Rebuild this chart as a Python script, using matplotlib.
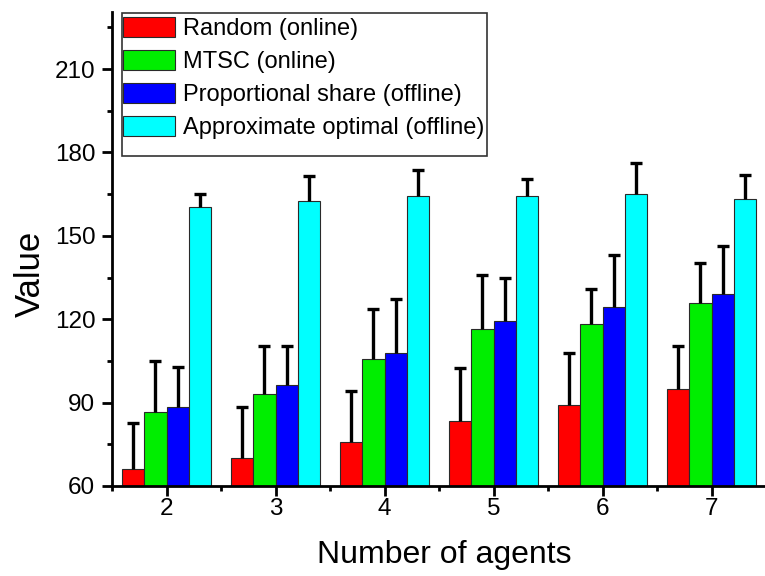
import numpy as np
import matplotlib.pyplot as plt
from matplotlib.patches import Rectangle
from matplotlib.ticker import MultipleLocator

plt.rcParams['font.family'] = ['Liberation Sans', 'DejaVu Sans']

agents = [2, 3, 4, 5, 6, 7]
series_names = ['Random (online)', 'MTSC (online)',
                'Proportional share (offline)', 'Approximate optimal (offline)']
colors = ['#ff0000', '#00ee00', '#0000ff', '#00ffff']

random_vals = [66.0, 70.0, 76.0, 83.2, 89.0, 95.0]
random_err = [16.5, 18.3, 18.2, 19.2, 19.0, 15.2]
mtsc_vals = [86.7, 93.0, 105.7, 116.3, 118.2, 126.0]
mtsc_err = [18.2, 17.2, 18.0, 19.5, 12.8, 14.4]
prop_vals = [88.4, 96.5, 108.0, 119.2, 124.4, 128.9]
prop_err = [14.3, 13.8, 19.2, 15.6, 18.6, 17.4]
approx_vals = [160.4, 162.7, 164.2, 164.5, 165.0, 163.4]
approx_err = [4.5, 8.9, 9.6, 6.0, 11.2, 8.4]

values = [random_vals, mtsc_vals, prop_vals, approx_vals]
errors = [random_err, mtsc_err, prop_err, approx_err]

fig = plt.figure(figsize=(7.65, 5.76), dpi=100)
ax = fig.add_axes([0.1464, 0.1563, 0.855, 0.8227])

width = 0.205
x = np.array(agents, dtype=float)
for i, (vals, errs) in enumerate(zip(values, errors)):
    pos = x + (i - 1.5) * width
    ax.bar(pos, np.array(vals) - 60, width, bottom=60, color=colors[i],
           edgecolor='#2a2a2a', linewidth=0.8, label=series_names[i], zorder=2)
    # upper half only: drop the cap that sits on the bar top
    eb = ax.errorbar(pos, vals, yerr=[np.zeros(len(errs)), errs], fmt='none',
                     ecolor='black', elinewidth=2.4, capsize=4.2, capthick=2.4, zorder=3)
    eb[1][0].remove()

ax.set_xlim(1.5, 7.5)
ax.set_ylim(60, 230.5)
ax.set_xticks(agents)
ax.xaxis.set_minor_locator(MultipleLocator(0.5))
ax.yaxis.set_major_locator(MultipleLocator(30))
ax.yaxis.set_minor_locator(MultipleLocator(15))

for side in ['top', 'right']:
    ax.spines[side].set_visible(False)
for side in ['left', 'bottom']:
    ax.spines[side].set_linewidth(2.0)

ax.tick_params(which='major', direction='out', length=7, width=2.0, labelsize=17.5)
ax.tick_params(axis='x', which='major', pad=2)
ax.tick_params(axis='y', which='major', pad=5)
ax.tick_params(which='minor', direction='out', length=3.5, width=2.0)

ax.set_xlabel('Number of agents', fontsize=23)
ax.set_ylabel('Value', fontsize=25)
ax.xaxis.set_label_coords(0.508, -0.114)
ax.yaxis.set_label_coords(-0.1, 0.447)

leg = ax.legend(loc='upper left', bbox_to_anchor=(0.0165, 0.99), fontsize=17,
                frameon=False, handlelength=2.2, handleheight=0.93,
                handletextpad=0.34, labelspacing=0.42, borderpad=0.0,
                borderaxespad=0.0)
for h in leg.legend_handles:
    h.set_edgecolor('#2a2a2a')
    h.set_linewidth(0.8)

# legend frame leaves extra room below the last entry
ax.add_patch(Rectangle((0.0148, 0.696), 0.5585, 0.3025, transform=ax.transAxes,
                       fill=False, edgecolor='#333333', linewidth=1.2,
                       clip_on=False, zorder=4))

fig.savefig('out.png', dpi=100)
